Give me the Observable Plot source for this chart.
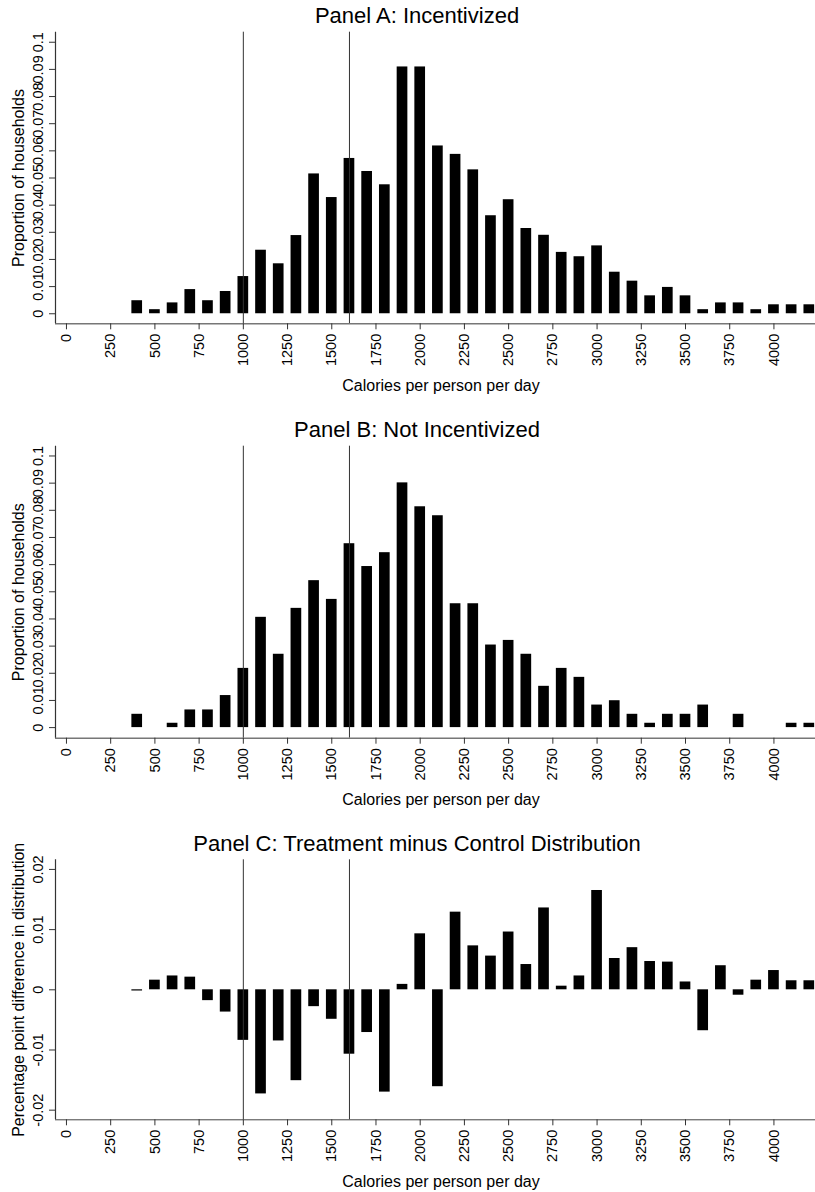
<!DOCTYPE html>
<html><head><meta charset="utf-8">
<script src="https://cdn.jsdelivr.net/npm/d3@7"></script>
<script src="https://cdn.jsdelivr.net/npm/@observablehq/plot@0.6"></script>
<style>
body{margin:0;background:#fff;}
#wrap{position:relative;width:815px;height:1192px;overflow:hidden;font-family:"Liberation Sans",Arial,sans-serif;background:#fff;}
.title{position:absolute;left:0;width:834px;text-align:center;font-size:22px;line-height:30px;color:#000;}
#wrap svg{position:absolute;left:0;overflow:visible;}
</style></head>
<body><div id="wrap"></div>
<script>
const calories = [400,500,600,700,800,900,1000,1100,1200,1300,1400,1500,1600,1700,1800,1900,2000,2100,2200,2300,2400,2500,2600,2700,2800,2900,3000,3100,3200,3300,3400,3500,3600,3700,3800,3900,4000,4100,4200];
const incentivized = [0.0048,0.0015,0.0040,0.0089,0.0048,0.0082,0.0137,0.0234,0.0184,0.0288,0.0515,0.0428,0.0572,0.0524,0.0475,0.0909,0.0909,0.0618,0.0587,0.0530,0.0361,0.0420,0.0314,0.0289,0.0226,0.0210,0.0250,0.0153,0.0120,0.0066,0.0097,0.0066,0.0015,0.0040,0.0040,0.0015,0.0033,0.0033,0.0033];
const notIncentivized = [0.0049,0,0.0016,0.0065,0.0065,0.0118,0.0218,0.0406,0.0270,0.0439,0.0541,0.0472,0.0677,0.0593,0.0644,0.0901,0.0813,0.0780,0.0456,0.0456,0.0304,0.0321,0.0270,0.0152,0.0218,0.0185,0.0083,0.0099,0.0049,0.0016,0.0049,0.0049,0.0083,0,0.0049,0,0,0.0016,0.0016];
const difference = [-0.0002,0.0016,0.0023,0.0021,-0.0018,-0.0037,-0.0084,-0.0173,-0.0085,-0.0151,-0.0028,-0.0049,-0.0107,-0.0071,-0.0170,0.0009,0.0093,-0.0161,0.0129,0.0073,0.0056,0.0096,0.0042,0.0136,0.0006,0.0023,0.0165,0.0052,0.0070,0.0047,0.0046,0.0013,-0.0068,0.0040,-0.0009,0.0016,0.0032,0.0015,0.0015];
const xTicks = [0,250,500,750,1000,1250,1500,1750,2000,2250,2500,2750,3000,3250,3500,3750,4000];
const yTicksAB = [0,0.01,0.02,0.03,0.04,0.05,0.06,0.07,0.08,0.09,0.1];
const yTickLabelsAB = ["0","0.01","0.02","0.03","0.04","0.05","0.06","0.07","0.08","0.09","0.1"];
const yTicksC = [-0.02,-0.01,0,0.01,0.02];
const yTickLabelsC = ["-0.02","-0.01","0","0.01","0.02"];
const cutoffs = [1000,1600];
const titles = ["Panel A: Incentivized","Panel B: Not Incentivized","Panel C: Treatment minus Control Distribution"];
const xLabel = "Calories per person per day";
const yLabelAB = "Proportion of households";
const yLabelC = "Percentage point difference in distribution";

const FONT = '"Liberation Sans", Arial, sans-serif';
const xDomain = [-62, 4235];

function panel({values, yDomain, yTicks, yLabels, yLabel, height, marginTop, marginBottom, axisStroke, axisWidth}) {
  const data = calories.map((c, i) => ({c, v: values[i]}));
  return Plot.plot({
    width: 815, height, marginLeft: 55, marginRight: 0, marginTop, marginBottom,
    style: {fontFamily: FONT, fontSize: "14.5px", color: "#000", background: "transparent", overflow: "visible"},
    x: {domain: xDomain},
    y: {domain: yDomain},
    marks: [
      Plot.rectY(data.filter(d => d.v !== 0), {x1: d => d.c - 50, x2: d => d.c + 50, y1: 0, y2: "v", insetLeft: 3.5, insetRight: 3.5, fill: "black"}),
      Plot.ruleX(cutoffs, {y1: yDomain[0], y2: yDomain[1], stroke: "#333", strokeWidth: 1}),
      Plot.ruleY([yDomain[0]], {stroke: axisStroke, strokeWidth: axisWidth}),
      Plot.ruleX([xDomain[0]], {stroke: "#333", strokeWidth: 1.2}),
      Plot.axisX({ticks: xTicks, tickFormat: d => String(d), tickRotate: -90, tickSize: 6, tickPadding: 4, textAnchor: "end", lineAnchor: "middle", label: null, stroke: "#333"}),
      Plot.axisY({ticks: yTicks, tickFormat: d => yLabels[yTicks.indexOf(d)], tickRotate: -90, tickSize: 6, tickPadding: 7, textAnchor: "middle", lineAnchor: "bottom", label: null, stroke: "#333"}),
      Plot.text([yLabel], {frameAnchor: "left", rotate: -90, dx: -42.5, textAnchor: "middle", lineAnchor: "top", fontSize: 16, fill: "#000"}),
      Plot.text([xLabel], {frameAnchor: "bottom", dx: 5.5, dy: 67, textAnchor: "middle", lineAnchor: "bottom", fontSize: 16, fill: "#000"})
    ]
  });
}

const wrap = document.getElementById("wrap");
function addTitle(text, centerY) {
  const d = document.createElement("div");
  d.className = "title";
  d.textContent = text;
  d.style.top = (centerY - 15) + "px";
  wrap.appendChild(d);
}

addTitle(titles[0], 15.5);
const a = panel({values: incentivized, yDomain: [-0.0037, 0.1037], yTicks: yTicksAB, yLabels: yTickLabelsAB, yLabel: yLabelAB, height: 368, marginTop: 1.7, marginBottom: 74.7, axisStroke: "#777", axisWidth: 1.5});
a.style.top = "30px"; wrap.appendChild(a);

addTitle(titles[1], 430);
const b = panel({values: notIncentivized, yDomain: [-0.0039, 0.1036], yTicks: yTicksAB, yLabels: yTickLabelsAB, yLabel: yLabelAB, height: 368, marginTop: 0.7, marginBottom: 75.3, axisStroke: "#777", axisWidth: 1.5});
b.style.top = "445px"; wrap.appendChild(b);

addTitle(titles[2], 844);
const c = panel({values: difference, yDomain: [-0.0216, 0.0216], yTicks: yTicksC, yLabels: yTickLabelsC, yLabel: yLabelC, height: 333, marginTop: 0.3, marginBottom: 72.7, axisStroke: "#444", axisWidth: 1});
c.style.top = "859px"; wrap.appendChild(c);
</script>
</body></html>
